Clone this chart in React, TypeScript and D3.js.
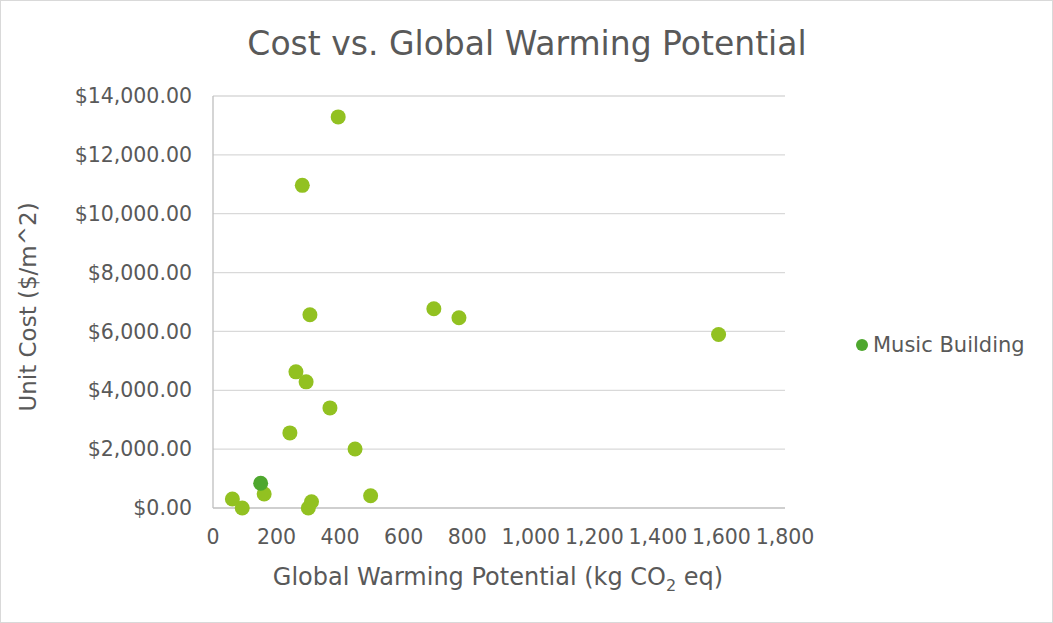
import React, { useEffect, useRef } from "react";
import * as d3 from "d3";

const gwpValues = [394, 281, 695, 1591, 305, 774, 261, 293, 368, 242, 447, 61, 92, 161, 300, 310, 496];
const costValues = [13290, 10963, 6769, 5895, 6565, 6463, 4626, 4286, 3401, 2551, 2007, 306, 0, 476, 0, 214, 418];
const musicGwp = [150];
const musicCost = [840];
const xTicks = [0, 200, 400, 600, 800, 1000, 1200, 1400, 1600, 1800];
const yTicks = [0, 2000, 4000, 6000, 8000, 10000, 12000, 14000];
const seriesName = "Music Building";

const W = 1053, H = 623;
const FONT = "'DejaVu Sans', sans-serif";
const TXT = "#595959";

export default function App() {
  const ref = useRef<SVGSVGElement>(null);
  useEffect(() => {
    const svg = d3.select(ref.current);
    svg.selectAll("*").remove();
    svg.append("rect").attr("x", 0.5).attr("y", 0.5).attr("width", W - 1).attr("height", H - 1)
      .attr("fill", "#fff").attr("stroke", "#d9d9d9");
    const x = d3.scaleLinear().domain([0, 1800]).range([213, 785]);
    const y = d3.scaleLinear().domain([0, 14000]).range([508, 96]);

    svg.append("g").selectAll("line").data(yTicks.slice(1)).join("line")
      .attr("x1", x(0)).attr("x2", x(1800)).attr("y1", d => y(d)).attr("y2", d => y(d))
      .attr("stroke", "#d9d9d9").attr("stroke-width", 1.3);
    svg.append("line").attr("x1", x(0)).attr("x2", x(0)).attr("y1", y(0)).attr("y2", y(14000))
      .attr("stroke", "#bfbfbf").attr("stroke-width", 1.3);
    svg.append("line").attr("x1", x(0)).attr("x2", x(1800)).attr("y1", y(0)).attr("y2", y(0))
      .attr("stroke", "#bfbfbf").attr("stroke-width", 1.3);

    const fmtY = (d: number) => "$" + d3.format(",.2f")(d);
    svg.append("g").selectAll("text").data(yTicks).join("text")
      .attr("x", 192).attr("y", d => y(d)).attr("dy", "0.35em").attr("text-anchor", "end")
      .attr("font-family", FONT).attr("font-size", 20.5).attr("fill", TXT).text(fmtY);
    svg.append("g").selectAll("text").data(xTicks).join("text")
      .attr("x", d => x(d)).attr("y", 537).attr("dy", "0.35em").attr("text-anchor", "middle")
      .attr("font-family", FONT).attr("font-size", 20.5).attr("fill", TXT).text(d => d3.format(",")(d));

    svg.append("text").attr("x", 527).attr("y", 55).attr("text-anchor", "middle")
      .attr("font-family", FONT).attr("font-size", 33).attr("fill", TXT).text("Cost vs. Global Warming Potential");

    const xt = svg.append("text").attr("x", 498).attr("y", 585).attr("text-anchor", "middle")
      .attr("font-family", FONT).attr("font-size", 24).attr("fill", TXT);
    xt.append("tspan").text("Global Warming Potential (kg CO");
    xt.append("tspan").attr("font-size", 16).attr("dy", 6).text("2");
    xt.append("tspan").attr("dy", -6).text(" eq)");

    svg.append("text").attr("transform", "translate(36,307) rotate(-90)").attr("text-anchor", "middle")
      .attr("font-family", FONT).attr("font-size", 23).attr("fill", TXT).text("Unit Cost ($/m^2)");

    const pts = gwpValues.map((g, i) => ({ g, c: costValues[i] }));
    svg.append("g").selectAll("circle").data(pts).join("circle")
      .attr("cx", d => x(d.g)).attr("cy", d => y(d.c)).attr("r", 7.5).attr("fill", "#92c121");
    const mpts = musicGwp.map((g, i) => ({ g, c: musicCost[i] }));
    svg.append("g").selectAll("circle").data(mpts).join("circle")
      .attr("cx", d => x(d.g)).attr("cy", d => y(d.c)).attr("r", 7.5).attr("fill", "#4ea72e");

    svg.append("circle").attr("cx", 862).attr("cy", 345).attr("r", 6).attr("fill", "#4ea72e");
    svg.append("text").attr("x", 873).attr("y", 345).attr("dy", "0.35em")
      .attr("font-family", FONT).attr("font-size", 21).attr("fill", TXT).text(seriesName);
  }, []);
  return <svg ref={ref} width={W} height={H} style={{ position: "absolute", left: 0, top: 0 }} />;
}
